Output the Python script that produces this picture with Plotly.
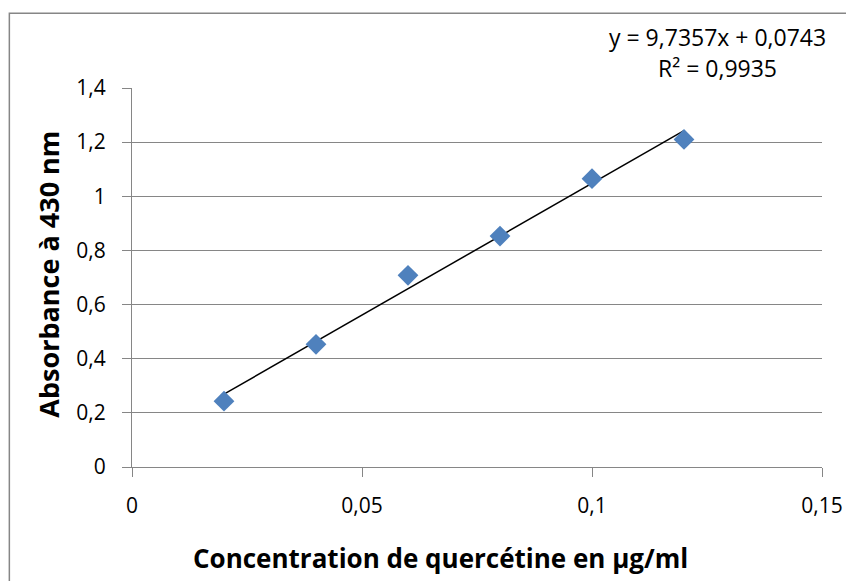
import plotly.graph_objects as go

# Data
concentration = [0.02, 0.04, 0.06, 0.08, 0.10, 0.12]
absorbance = [0.243, 0.453, 0.708, 0.853, 1.065, 1.210]
slope = 9.7357
intercept = 0.0743
r_squared = 0.9935
x_tickvals = [0, 0.05, 0.10, 0.15]
x_ticktext = ["0", "0,05", "0,1", "0,15"]
y_tickvals = [0, 0.2, 0.4, 0.6, 0.8, 1.0, 1.2, 1.4]
y_ticktext = ["0", "0,2", "0,4", "0,6", "0,8", "1", "1,2", "1,4"]
x_title = "Concentration de quercétine en µg/ml"
y_title = "Absorbance à 430 nm"

# page offset (body margin) compensation
OFF = 8
W, H = 854 - OFF, 581 - OFF
L, R, T, B = 131.7 - OFF, 822.0 - OFF, 87.7 - OFF, 466.7 - OFF
pw, ph = R - L, B - T

def px_x(p):
    return (p - OFF - L) / pw

def px_y(p):
    return (B - (p - OFF)) / ph

FONT = "Open Sans"
GRID = "#868686"

trend_x = [min(concentration), max(concentration)]
trend_y = [slope * v + intercept for v in trend_x]

fig = go.Figure()
fig.add_trace(go.Scatter(
    x=trend_x, y=trend_y, mode="lines",
    line=dict(color="black", width=1.5), showlegend=False, hoverinfo="skip"))
fig.add_trace(go.Scatter(
    x=concentration, y=absorbance, mode="markers",
    marker=dict(symbol="diamond", size=16, color="#4F81BD",
                line=dict(width=0)),
    showlegend=False))

fig.update_layout(
    width=W, height=H, autosize=False,
    margin=dict(l=L, r=W - R, t=T, b=H - B, pad=0),
    paper_bgcolor="white", plot_bgcolor="white",
    font=dict(family=FONT, size=21, color="black"),
    xaxis=dict(range=[0, 0.15], tickvals=x_tickvals, ticktext=x_ticktext,
               showgrid=False, zeroline=False, showline=True,
               linecolor=GRID, linewidth=1.3,
               ticks="outside", ticklen=9, tickcolor=GRID, tickwidth=1.3,
               ticklabelstandoff=11,
               tickfont=dict(family=FONT, size=21, color="black")),
    yaxis=dict(range=[0, 1.4], tickvals=y_tickvals, ticktext=y_ticktext,
               showgrid=True, gridcolor=GRID, gridwidth=1.3,
               zeroline=False, showline=True,
               linecolor=GRID, linewidth=1.3,
               ticks="outside", ticklen=9, tickcolor=GRID, tickwidth=1.3,
               ticklabelstandoff=12,
               tickfont=dict(family=FONT, size=21, color="black")),
    shapes=[dict(type="rect", xref="paper", yref="paper",
                 x0=px_x(9), x1=px_x(870), y0=px_y(600), y1=px_y(13),
                 line=dict(color="#868686", width=1.5), fillcolor="rgba(0,0,0,0)",
                 layer="below")],
    annotations=[
        dict(text=f"y = {slope:.4f}x + {intercept:.4f}".replace(".", ","),
             xref="paper", yref="paper", x=px_x(717), y=px_y(36.5),
             showarrow=False, xanchor="center", yanchor="middle",
             font=dict(family=FONT, size=23, color="black")),
        dict(text=f"R² = {r_squared:.4f}".replace(".", ","),
             xref="paper", yref="paper", x=px_x(717), y=px_y(67.5),
             showarrow=False, xanchor="center", yanchor="middle",
             font=dict(family=FONT, size=23, color="black")),
        dict(text=x_title, xref="paper", yref="paper",
             x=px_x(440), y=px_y(558), showarrow=False,
             xanchor="center", yanchor="middle",
             font=dict(family=FONT, size=26, color="black", weight="bold")),
        dict(text=y_title, xref="paper", yref="paper",
             x=px_x(48), y=px_y(274), showarrow=False, textangle=-90,
             xanchor="center", yanchor="middle",
             font=dict(family=FONT, size=27, color="black", weight="bold")),
    ],
)

fig.write_html("out.html")
